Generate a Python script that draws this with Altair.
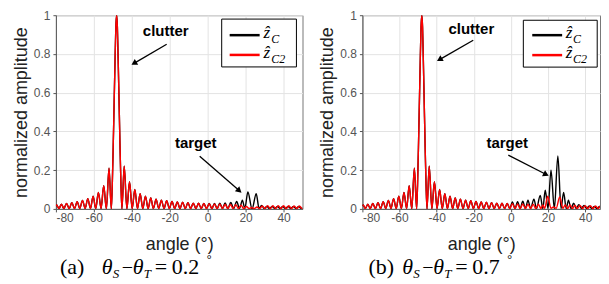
import altair as alt
import pandas as pd

# ---------------- data ----------------
# clutter pattern, common part (left sidelobes + main lobe)
CL_ANG = [-80.0, -79.6, -78.4, -77.1, -75.8, -74.4, -73.0, -71.6, -70.2, -68.8, -67.4,
          -66.0, -64.6, -63.2, -61.8, -60.4, -59.0, -57.6, -56.2, -54.8, -53.4, -52.0,
          -50.8, -50.3, -49.8, -49.3, -48.8, -48.4, -48.0, -47.6, -47.2, -46.7, -46.2,
          -45.7, -45.2, -44.0, -42.6, -41.2, -39.8, -38.4, -37.0, -35.6, -34.2, -32.8,
          -31.4, -30.0, -28.6, -27.2, -25.8, -24.4, -23.0, -21.6, -20.2, -18.8, -17.4,
          -16.0, -14.6, -13.2, -11.8, -10.4, -9.0, -7.6, -6.2, -4.8, -3.4, -2.0, -0.6]
CL_VAL = [0.015, 0.02, 0.002, 0.024, 0.002, 0.028, 0.002, 0.032, 0.002, 0.037, 0.002,
          0.044, 0.002, 0.053, 0.002, 0.065, 0.002, 0.085, 0.002, 0.12, 0.0, 0.21,
          0.0, 0.12, 0.32, 0.55, 0.78, 0.94, 1.0, 0.94, 0.78, 0.55, 0.32,
          0.12, 0.0, 0.22, 0.0, 0.14, 0.002, 0.10, 0.002, 0.078, 0.002, 0.065,
          0.002, 0.056, 0.002, 0.05, 0.002, 0.045, 0.002, 0.042, 0.002, 0.039, 0.002,
          0.036, 0.002, 0.034, 0.002, 0.032, 0.002, 0.03, 0.002, 0.029, 0.002, 0.028, 0.002]

# panel (a) right part
RA_RED_ANG = [0.8, 2.2, 3.6, 5.0, 6.4, 7.8, 9.2, 10.6, 12.0, 13.4, 14.8, 16.2, 17.6, 19.0,
              20.4, 21.8, 23.2, 24.6, 26.0, 27.4, 28.8, 30.2, 31.6, 33.0, 34.4, 35.8,
              37.2, 38.6, 40.0, 41.4, 42.8, 44.2, 45.6, 47.0, 48.4, 49.8, 50.0]
RA_RED_VAL = [0.027, 0.002, 0.026, 0.002, 0.025, 0.002, 0.024, 0.002, 0.023, 0.002, 0.022,
              0.002, 0.019, 0.002, 0.012, 0.002, 0.007, 0.002, 0.01, 0.002, 0.015, 0.002,
              0.017, 0.002, 0.017, 0.002, 0.017, 0.002, 0.016, 0.002, 0.016, 0.002, 0.015,
              0.002, 0.015, 0.002, 0.003]
RA_BLK_ANG = [0.8, 2.2, 3.6, 5.0, 6.4, 7.8, 9.2, 10.6, 12.2, 13.7, 15.3, 16.8, 18.3, 19.6,
              21.2, 23.4, 25.6, 27.1, 28.4, 29.8, 31.2, 32.6, 34.0, 35.4, 36.8, 38.2,
              39.6, 41.0, 42.4, 43.8, 45.2, 46.6, 48.0, 49.4, 50.0]
RA_BLK_VAL = [0.028, 0.002, 0.028, 0.002, 0.03, 0.002, 0.031, 0.002, 0.033, 0.002, 0.038,
              0.002, 0.045, 0.002, 0.087, 0.0, 0.078, 0.002, 0.018, 0.002, 0.013, 0.002,
              0.012, 0.002, 0.012, 0.002, 0.012, 0.002, 0.012, 0.002, 0.012, 0.002, 0.012,
              0.002, 0.006]

# panel (b) right part
RB_RED_ANG = [0.8, 2.2, 3.6, 5.0, 6.4, 7.8, 9.2, 10.6, 12.0, 13.4, 14.8, 16.2, 17.2, 18.2,
              19.8, 21.6, 23.0, 24.4, 26.3, 28.0, 29.2, 30.6, 31.8, 33.2, 34.4, 35.8,
              37.2, 38.6, 40.0, 41.4, 42.8, 44.2, 45.6, 47.0, 48.4, 49.8, 50.0]
RB_RED_VAL = [0.027, 0.002, 0.026, 0.002, 0.025, 0.002, 0.024, 0.002, 0.024, 0.002, 0.024,
              0.002, 0.02, 0.003, 0.065, 0.003, 0.01, 0.003, 0.062, 0.003, 0.02, 0.002,
              0.02, 0.002, 0.019, 0.002, 0.018, 0.002, 0.017, 0.002, 0.016, 0.002, 0.015,
              0.002, 0.015, 0.002, 0.003]
RB_BLK_ANG = [0.8, 2.2, 3.6, 5.0, 6.4, 7.8, 9.2, 10.6, 12.4, 13.8, 15.8, 17.2, 18.5, 20.0,
              21.6, 23.4, 25.3, 27.0, 28.4, 29.8, 31.0, 32.4, 33.8, 35.2, 36.6, 38.0,
              39.4, 40.8, 42.2, 43.6, 45.0, 46.4, 47.8, 49.2, 50.0]
RB_BLK_VAL = [0.036, 0.002, 0.037, 0.002, 0.04, 0.002, 0.045, 0.002, 0.05, 0.002, 0.07,
              0.002, 0.096, 0.002, 0.2, 0.0, 0.273, 0.002, 0.085, 0.002, 0.045, 0.002,
              0.03, 0.002, 0.022, 0.002, 0.018, 0.002, 0.015, 0.002, 0.013, 0.002, 0.012,
              0.002, 0.006]

X_TICKS = [-80, -60, -40, -20, 0, 20, 40]
Y_TICKS = [0.0, 0.2, 0.4, 0.6, 0.8, 1.0]
X_DOMAIN_A = [-80, 50]
X_DOMAIN_B = [-80, 48]   # right edge of panel (b) is cropped in the picture

SANS = "Liberation Sans"
SERIF = "Liberation Serif"

YSCALE = alt.Scale(domain=[0, 1], nice=False, zero=False)
XAXIS = alt.Axis(values=X_TICKS, title="angle (°)", titleFontSize=18,
                 labelExpr="datum.value < 0 ? '-' + abs(datum.value) : '' + datum.value",
                 labelOverlap=False, titleFont=SANS, titleFontWeight="normal",
                 titleColor="#222", titlePadding=12, labelPadding=1)
YAXIS = alt.Axis(values=Y_TICKS, title="normalized amplitude", tickCount=6,
                 labelExpr="'' + round(datum.value * 10) / 10",
                 labelOverlap=False, titleFontSize=18, titleFont=SANS,
                 titleFontWeight="normal", titleColor="#222", titlePadding=3, labelPadding=3)


def series(ang, val):
    return pd.DataFrame({"angle": ang, "amp": val})


def panel(red_ang, red_val, blk_ang, blk_val, ann, leg, cap, xdom, w, h):
    xscale = alt.Scale(domain=xdom, nice=False, zero=False)

    def xq(f="angle"):
        return alt.X(f + ":Q", scale=xscale, axis=XAXIS, title="angle (°)")

    def yq(f="amp"):
        return alt.Y(f + ":Q", scale=YSCALE, axis=YAXIS, title="normalized amplitude")

    blk = alt.Chart(series(blk_ang, blk_val)).mark_line(
        color="black", strokeWidth=1.4, interpolate="monotone", clip=True).encode(x=xq(), y=yq())
    red = alt.Chart(series(red_ang, red_val)).mark_line(
        color="#ff0000", strokeWidth=1.4, interpolate="monotone", clip=True).encode(x=xq(), y=yq())

    # annotations
    tdf = pd.DataFrame({"angle": ann["tx"], "amp": ann["ty"], "txt": ["clutter", "target"]})
    txt = alt.Chart(tdf).mark_text(font=SANS, fontWeight="bold", fontSize=15, color="black").encode(
        x=xq(), y=yq(), text="txt:N")
    layers = [blk, red, txt]
    for i in range(2):
        adf = pd.DataFrame({"angle": [ann["ax0"][i], ann["ax1"][i]],
                            "amp": [ann["ay0"][i], ann["ay1"][i]]})
        layers.append(alt.Chart(adf).mark_line(color="black", strokeWidth=1.3).encode(
            x=xq(), y=yq()))
        hdf = pd.DataFrame({"angle": [ann["ax1"][i]], "amp": [ann["ay1"][i]]})
        layers.append(alt.Chart(hdf).mark_point(shape="triangle", filled=True, size=45,
                                                opacity=1, color="black",
                                                angle=ann["ang"][i]).encode(x=xq(), y=yq()))

    # legend box
    bdf = pd.DataFrame({"angle": [leg["bx"][0]], "x1": [leg["bx"][1]],
                        "amp": [leg["by"][0]], "y1": [leg["by"][1]]})
    layers.append(alt.Chart(bdf).mark_rect(fill="white", stroke="black", strokeWidth=1).encode(
        x=xq(), x2="x1", y=yq(), y2="y1"))
    for col, yy in zip(["black", "#ff0000"], leg["ly"]):
        ldf = pd.DataFrame({"angle": [leg["lx"][0]], "x1": [leg["lx"][1]], "amp": [yy]})
        layers.append(alt.Chart(ldf).mark_rule(color=col, strokeWidth=2.5).encode(
            x=xq(), x2="x1", y=yq()))
    zdf = pd.DataFrame({"angle": [leg["zx"], leg["zx"]], "amp": leg["ly"], "txt": ["ẑ", "ẑ"]})
    layers.append(alt.Chart(zdf).mark_text(font=SERIF, fontStyle="italic", fontSize=17,
                                           align="left", baseline="middle", dy=-2).encode(
        x=xq(), y=yq(), text="txt:N"))
    sdf = pd.DataFrame({"angle": [leg["sx"], leg["sx"]], "amp": leg["ly"], "txt": ["C", "C2"]})
    layers.append(alt.Chart(sdf).mark_text(font=SERIF, fontStyle="italic", fontSize=12,
                                           align="left", baseline="middle", dy=4).encode(
        x=xq(), y=yq(), text="txt:N"))

    # caption (pixel positions relative to plot area)
    for t, px, py, size, style in cap:
        layers.append(alt.Chart(pd.DataFrame({"t": [t]})).mark_text(
            font=SERIF, fontSize=size, fontStyle=style, align="left", baseline="alphabetic",
            color="black").encode(x=alt.value(px), y=alt.value(py), text="t:N"))

    return alt.layer(*layers).properties(width=w, height=h)


ann_a = {"tx": [-22.1, -6.3], "ty": [0.918, 0.338],
         "ax0": [-21.6, -4.2], "ay0": [0.85, 0.272],
         "ax1": [-38.4, 16.3], "ay1": [0.754, 0.097], "ang": [239, 131]}
ann_b = {"tx": [-21.3, -2.0], "ty": [0.928, 0.34],
         "ax0": [-20.3, -1.4], "ay0": [0.871, 0.278],
         "ax1": [-38.0, 18.5], "ay1": [0.773, 0.18], "ang": [240, 117]}
leg_a = {"bx": [7.4, 46.8], "by": [0.98, 0.733], "lx": [11.6, 27.4], "ly": [0.897, 0.795],
         "zx": 29.5, "sx": 33.5}
leg_b = {"bx": [6.7, 46.5], "by": [0.974, 0.732], "lx": [11.5, 27.6], "ly": [0.897, 0.794],
         "zx": 29.5, "sx": 33.5}

CAP_Y = 259
cap_a = [("(a)", 4, CAP_Y, 22, "normal"), ("θ", 46, CAP_Y, 22, "italic"),
         ("S", 57, CAP_Y + 4, 13, "italic"), ("−", 66, CAP_Y, 20, "normal"),
         ("θ", 77, CAP_Y, 22, "italic"), ("T", 88, CAP_Y + 4, 13, "italic"),
         ("=", 99, CAP_Y, 22, "normal"), ("0.2", 116, CAP_Y, 22, "normal"),
         ("°", 151, CAP_Y - 11, 12, "normal")]
cap_b = [("(b)", 6, CAP_Y, 22, "normal"), ("θ", 40, CAP_Y, 22, "italic"),
         ("S", 51, CAP_Y + 4, 13, "italic"), ("−", 60, CAP_Y, 20, "normal"),
         ("θ", 71, CAP_Y, 22, "italic"), ("T", 82, CAP_Y + 4, 13, "italic"),
         ("=", 93, CAP_Y, 22, "normal"), ("0.7", 110, CAP_Y, 22, "normal"),
         ("°", 145, CAP_Y - 11, 12, "normal")]

pa = panel(CL_ANG + RA_RED_ANG, CL_VAL + RA_RED_VAL, CL_ANG + RA_BLK_ANG, CL_VAL + RA_BLK_VAL,
           ann_a, leg_a, cap_a, X_DOMAIN_A, 247, 194)
pb = panel(CL_ANG + RB_RED_ANG, CL_VAL + RB_RED_VAL, CL_ANG + RB_BLK_ANG, CL_VAL + RB_BLK_VAL,
           ann_b, leg_b, cap_b, X_DOMAIN_B, 238, 194)

chart = alt.hconcat(pa, pb, spacing=14).configure_view(
    stroke="#777", strokeWidth=1
).configure_axis(
    labelFont=SANS, labelFontSize=12, labelColor="#555", domainColor="#555",
    tickColor="#555", tickSize=3, gridColor="#e3e3e3", grid=True, labelOverlap=False
).properties(
    background="white",
    padding={"left": 3, "top": 0, "right": 0, "bottom": 0}
)

chart.save("out.html", embed_options={"renderer": "svg", "actions": False})
